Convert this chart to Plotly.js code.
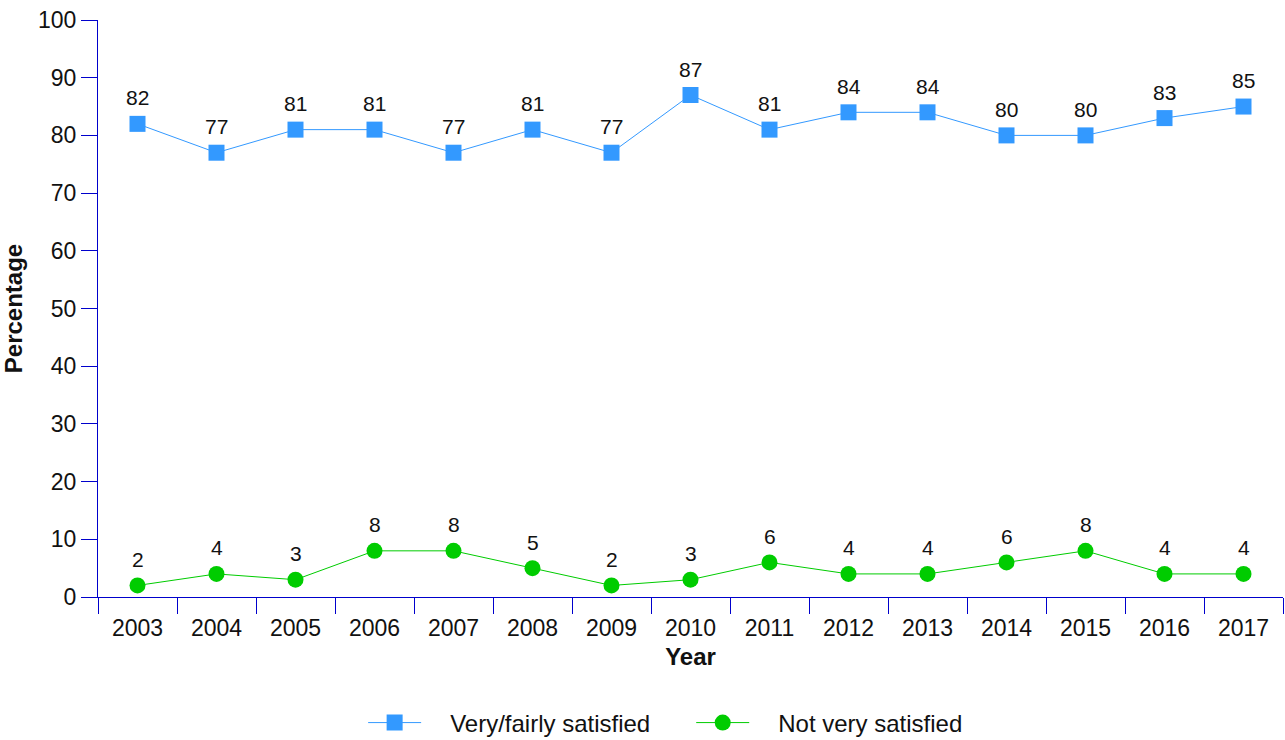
<!DOCTYPE html>
<html>
<head>
<meta charset="utf-8">
<script src="https://cdn.plot.ly/plotly-3.0.1.min.js"></script>
<style>html,body{margin:0;padding:0;background:#fff;}#chart{width:1285px;height:740px;}</style>
</head>
<body>
<div id="chart"></div>
<script>
const years = ["2003","2004","2005","2006","2007","2008","2009","2010","2011","2012","2013","2014","2015","2016","2017"];
const satisfied = [82,77,81,81,77,81,77,87,81,84,84,80,80,83,85];
const notSatisfied = [2,4,3,8,8,5,2,3,6,4,4,6,8,4,4];
const seriesNames = ["Very/fairly satisfied","Not very satisfied"];

const font = "Liberation Sans, Arial, Helvetica, sans-serif";
const pad = "\u2002\u2002";
const traces = [
  {
    x: years, y: satisfied, name: pad + seriesNames[0] + pad + "\u2002", type: "scatter", mode: "lines+markers",
    line: {color: "#3399ff", width: 1},
    marker: {symbol: "square", size: 16, color: "#3399ff"},
    cliponaxis: false
  },
  {
    x: years, y: notSatisfied, name: pad + seriesNames[1], type: "scatter", mode: "lines+markers",
    line: {color: "#00cc00", width: 1},
    marker: {symbol: "circle", size: 16, color: "#00cc00"},
    cliponaxis: false
  }
];
const annotations = [];
[satisfied, notSatisfied].forEach(series => {
  series.forEach((v, i) => {
    annotations.push({
      x: i, y: v, xref: "x", yref: "y", text: String(v), showarrow: false,
      yshift: 26, yanchor: "middle", xanchor: "center",
      font: {family: font, size: 21, color: "#111"}
    });
  });
});
const layout = {
  width: 1285, height: 740,
  margin: {l: 98, r: 2, t: 20, b: 143},
  paper_bgcolor: "#fff", plot_bgcolor: "#fff",
  font: {family: font, size: 21, color: "#111"},
  showlegend: true,
  annotations: annotations,
  legend: {orientation: "h", xref: "container", yref: "container", x: 0.518, xanchor: "center", y: 0.023, yanchor: "middle",
    font: {family: font, size: 24, color: "#111"}, itemwidth: 53},
  xaxis: {
    type: "category", showgrid: false, zeroline: false,
    showline: true, linecolor: "#0000cc", linewidth: 1,
    ticks: "outside", ticklen: 16, tickcolor: "#0000cc", tickson: "boundaries",
    ticklabelstandoff: 10,
    tickfont: {family: font, size: 23, color: "#111"},
    title: {text: "<b>Year</b>", font: {family: font, size: 24, color: "#111"}, standoff: 8},
    range: [-0.5, 14.5]
  },
  yaxis: {
    range: [0, 100], dtick: 10, showgrid: false, zeroline: false,
    showline: true, linecolor: "#0000cc", linewidth: 1,
    ticks: "outside", ticklen: 16, tickcolor: "#0000cc",
    tickfont: {family: font, size: 23, color: "#111"},
    title: {text: "<b>Percentage</b>", font: {family: font, size: 24, color: "#111"}, standoff: 8}
  }
};
Plotly.newPlot("chart", traces, layout, {displayModeBar: false, responsive: false});
</script>
</body>
</html>
